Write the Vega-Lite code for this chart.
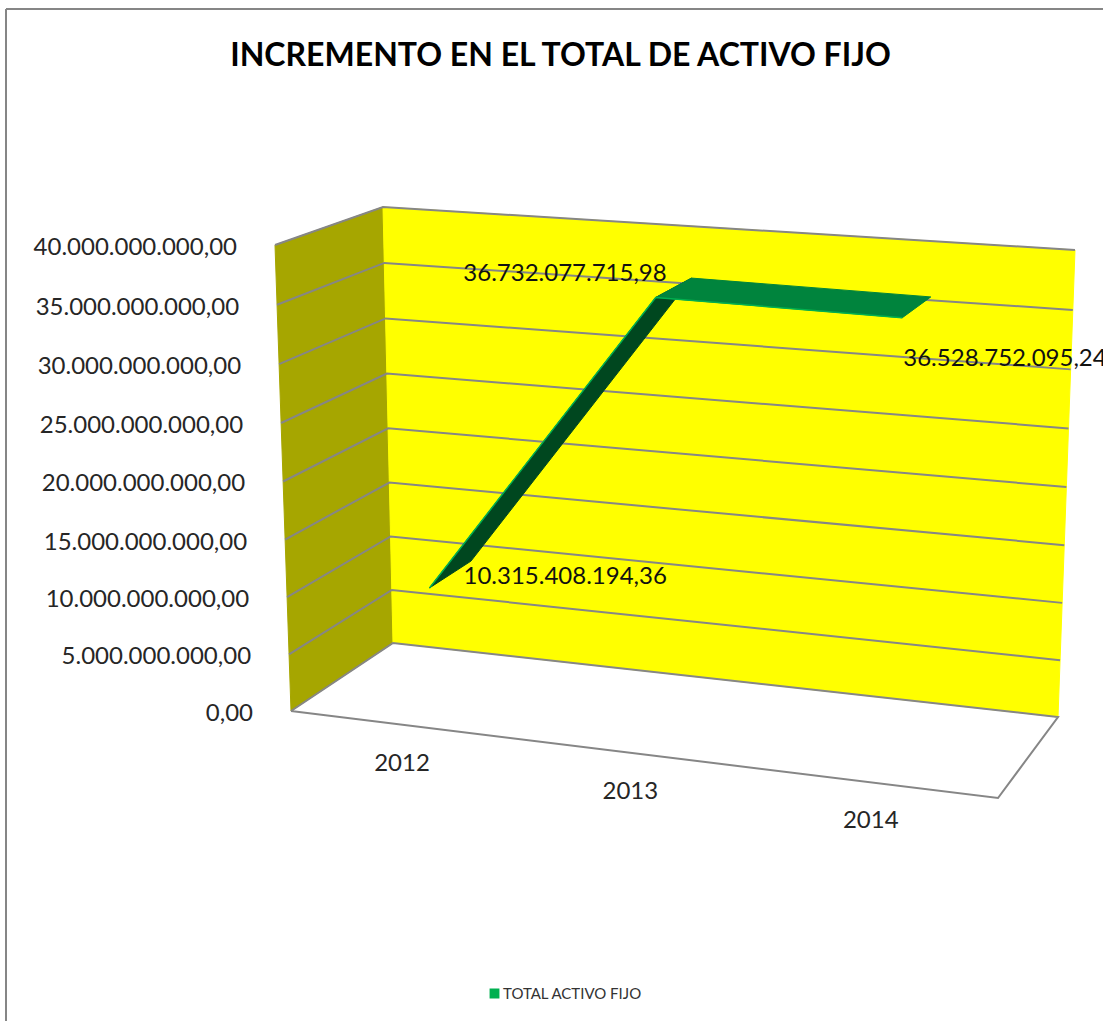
{
"$schema":"https://vega.github.io/schema/vega-lite/v6.json",
"width":1103,"height":1021,"padding":0,"autosize":{"type":"none"},
"background":"white",
"config":{"view":{"stroke":null},"font":"Lato"},
"title":{"text":"INCREMENTO EN EL TOTAL DE ACTIVO FIJO","font":"Lato","fontSize":32,"fontWeight":"bold","color":"#000000","anchor":"middle","orient":"top","offset":-73,"dx":9},
"data":{"values":[
{"part":"back","slot":0,"value":0,"depth":1,"k":0},
{"part":"back","slot":0,"value":40000000000,"depth":1,"k":1},
{"part":"back","slot":1,"value":40000000000,"depth":1,"k":2},
{"part":"back","slot":1,"value":0,"depth":1,"k":3},
{"part":"side","slot":0,"value":0,"depth":0,"k":0},
{"part":"side","slot":0,"value":40000000000,"depth":0,"k":1},
{"part":"side","slot":0,"value":40000000000,"depth":1,"k":2},
{"part":"side","slot":0,"value":0,"depth":1,"k":3},
{"part":"floor","slot":0,"value":0,"depth":0,"k":0},
{"part":"floor","slot":0,"value":0,"depth":1,"k":1},
{"part":"floor","slot":1,"value":0,"depth":1,"k":2},
{"part":"floor","slot":1,"value":0,"depth":0,"k":3},
{"part":"floor","slot":0,"value":0,"depth":0,"k":4},
{"part":"grid","level":"5","slot":0,"value":5000000000,"depth":0,"k":0,"label":"5.000.000.000,00"},
{"part":"grid","level":"5","slot":0,"value":5000000000,"depth":1,"k":1},
{"part":"grid","level":"5","slot":1,"value":5000000000,"depth":1,"k":2},
{"part":"grid","level":"10","slot":0,"value":10000000000,"depth":0,"k":0,"label":"10.000.000.000,00"},
{"part":"grid","level":"10","slot":0,"value":10000000000,"depth":1,"k":1},
{"part":"grid","level":"10","slot":1,"value":10000000000,"depth":1,"k":2},
{"part":"grid","level":"15","slot":0,"value":15000000000,"depth":0,"k":0,"label":"15.000.000.000,00"},
{"part":"grid","level":"15","slot":0,"value":15000000000,"depth":1,"k":1},
{"part":"grid","level":"15","slot":1,"value":15000000000,"depth":1,"k":2},
{"part":"grid","level":"20","slot":0,"value":20000000000,"depth":0,"k":0,"label":"20.000.000.000,00"},
{"part":"grid","level":"20","slot":0,"value":20000000000,"depth":1,"k":1},
{"part":"grid","level":"20","slot":1,"value":20000000000,"depth":1,"k":2},
{"part":"grid","level":"25","slot":0,"value":25000000000,"depth":0,"k":0,"label":"25.000.000.000,00"},
{"part":"grid","level":"25","slot":0,"value":25000000000,"depth":1,"k":1},
{"part":"grid","level":"25","slot":1,"value":25000000000,"depth":1,"k":2},
{"part":"grid","level":"30","slot":0,"value":30000000000,"depth":0,"k":0,"label":"30.000.000.000,00"},
{"part":"grid","level":"30","slot":0,"value":30000000000,"depth":1,"k":1},
{"part":"grid","level":"30","slot":1,"value":30000000000,"depth":1,"k":2},
{"part":"grid","level":"35","slot":0,"value":35000000000,"depth":0,"k":0,"label":"35.000.000.000,00"},
{"part":"grid","level":"35","slot":0,"value":35000000000,"depth":1,"k":1},
{"part":"grid","level":"35","slot":1,"value":35000000000,"depth":1,"k":2},
{"part":"grid","level":"40","slot":0,"value":40000000000,"depth":0,"k":0,"label":"40.000.000.000,00"},
{"part":"grid","level":"40","slot":0,"value":40000000000,"depth":1,"k":1},
{"part":"grid","level":"40","slot":1,"value":40000000000,"depth":1,"k":2},
{"part":"zero","slot":0,"value":0,"depth":0,"k":0,"label":"0,00"},
{"part":"category","year":"2012","slot":0.157,"value":0,"depth":0,"k":0},
{"part":"category","year":"2013","slot":0.48,"value":0,"depth":0,"k":1},
{"part":"category","year":"2014","slot":0.82,"value":0,"depth":0,"k":2},
{"part":"rise","year":"2012","slot":0.16,"value":10315408194.36,"depth":0.29,"k":0},
{"part":"rise","year":"2012","slot":0.16,"value":10315408194.36,"depth":0.72,"k":1},
{"part":"rise","year":"2013","slot":0.48,"value":36732077715.98,"depth":0.72,"k":2},
{"part":"rise","year":"2013","slot":0.48,"value":36732077715.98,"depth":0.29,"k":3},
{"part":"flat","year":"2013","slot":0.48,"value":36732077715.98,"depth":0.29,"k":0},
{"part":"flat","year":"2013","slot":0.48,"value":36732077715.98,"depth":0.72,"k":1},
{"part":"flat","year":"2014","slot":0.82,"value":36528752095.24,"depth":0.72,"k":2},
{"part":"flat","year":"2014","slot":0.82,"value":36528752095.24,"depth":0.29,"k":3},
{"part":"front","series":"TOTAL ACTIVO FIJO","year":"2012","slot":0.16,"value":10315408194.36,"depth":0.29,"k":0,"text":"10.315.408.194,36"},
{"part":"front","series":"TOTAL ACTIVO FIJO","year":"2013","slot":0.48,"value":36732077715.98,"depth":0.29,"k":1,"text":"36.732.077.715,98"},
{"part":"front","series":"TOTAL ACTIVO FIJO","year":"2014","slot":0.82,"value":36528752095.24,"depth":0.29,"k":2,"text":"36.528.752.095,24"}
]},
"transform":[
{"calculate":"datum.value/40000000000*(1+0.03*(datum.value/40000000000-1))","as":"f"},
{"calculate":"(1-datum.depth)*((1-datum.slot)*291+datum.slot*998)+datum.depth*((1-datum.slot)*393+datum.slot*1058)","as":"bx"},
{"calculate":"(1-datum.depth)*((1-datum.slot)*711+datum.slot*798)+datum.depth*((1-datum.slot)*643+datum.slot*717)","as":"by"},
{"calculate":"(1-datum.depth)*((1-datum.slot)*275+datum.slot*1018)+datum.depth*((1-datum.slot)*383+datum.slot*1075)","as":"tx"},
{"calculate":"(1-datum.depth)*((1-datum.slot)*245+datum.slot*297)+datum.depth*((1-datum.slot)*207+datum.slot*250)","as":"ty"},
{"calculate":"datum.bx+datum.f*(datum.tx-datum.bx)","as":"px"},
{"calculate":"datum.by+datum.f*(datum.ty-datum.by)","as":"py"}
],
"encoding":{
"x":{"field":"px","type":"quantitative","scale":{"domain":[0,1103],"nice":false,"zero":false},"axis":null},
"y":{"field":"py","type":"quantitative","scale":{"domain":[1021,0],"nice":false,"zero":false},"axis":null},
"order":{"field":"k","type":"quantitative"}
},
"layer":[
{"data":{"values":[{"edge":"left"}]},"mark":{"type":"rule","stroke":"#868686","strokeWidth":2},"encoding":{"x":{"value":6},"y":{"value":9},"y2":{"value":1021},"order":null}},
{"data":{"values":[{"edge":"top"}]},"mark":{"type":"rule","stroke":"#868686","strokeWidth":2},"encoding":{"x":{"value":6},"x2":{"value":1103},"y":{"value":9},"order":null}},
{"transform":[{"filter":"datum.part==='side'"}],"mark":{"type":"line","fill":"#A6A600","stroke":"#A6A600","strokeWidth":1,"interpolate":"linear-closed"}},
{"transform":[{"filter":"datum.part==='back'"}],"mark":{"type":"line","fill":"#FFFF00","stroke":"#FFFF00","strokeWidth":1,"interpolate":"linear-closed"}},
{"transform":[{"filter":"datum.part==='floor'"}],"mark":{"type":"line","stroke":"#868686","strokeWidth":2}},
{"transform":[{"filter":"datum.part==='grid'"}],"mark":{"type":"line","stroke":"#868686","strokeWidth":2},"encoding":{"detail":{"field":"level"}}},
{"transform":[{"filter":"datum.part==='rise'"}],"mark":{"type":"line","fill":"#00471F","stroke":"#00471F","strokeWidth":1,"interpolate":"linear-closed"}},
{"transform":[{"filter":"datum.part==='flat'"}],"mark":{"type":"line","fill":"#00843D","stroke":"#00843D","strokeWidth":1,"interpolate":"linear-closed"}},
{"transform":[{"filter":"datum.part==='front'"}],"mark":{"type":"line","strokeWidth":1.5},
 "encoding":{"color":{"field":"series","type":"nominal","scale":{"domain":["TOTAL ACTIVO FIJO"],"range":["#00B050"]},
 "legend":{"title":null,"orient":"none","legendX":487,"legendY":986,"symbolType":"square","symbolSize":70,"symbolFillColor":"#00B050","symbolStrokeColor":"#00B050","labelFont":"Lato","labelFontSize":15,"labelColor":"#333333","labelOffset":1}}}},
{"transform":[{"filter":"datum.part==='grid'&&datum.depth===0||datum.part==='zero'"}],"mark":{"type":"text","align":"right","baseline":"middle","fontSize":24,"color":"#262626","dx":-38,"dy":3},"encoding":{"text":{"field":"label"},"order":null}},
{"transform":[{"filter":"datum.part==='category'"}],"mark":{"type":"text","align":"center","baseline":"middle","fontSize":24,"color":"#262626","dy":39},"encoding":{"text":{"field":"year"},"order":null}},
{"transform":[{"filter":"datum.part==='front'&&datum.year==='2012'"}],"mark":{"type":"text","align":"left","baseline":"middle","fontSize":24,"color":"#111111","dx":34,"dy":-11},"encoding":{"text":{"field":"text"},"order":null}},
{"transform":[{"filter":"datum.part==='front'&&datum.year==='2013'"}],"mark":{"type":"text","align":"right","baseline":"middle","fontSize":24,"color":"#111111","dx":11,"dy":-23},"encoding":{"text":{"field":"text"},"order":null}},
{"transform":[{"filter":"datum.part==='front'&&datum.year==='2014'"}],"mark":{"type":"text","align":"left","baseline":"middle","fontSize":24,"color":"#111111","dx":1,"dy":41},"encoding":{"text":{"field":"text"},"order":null}}
]
}
